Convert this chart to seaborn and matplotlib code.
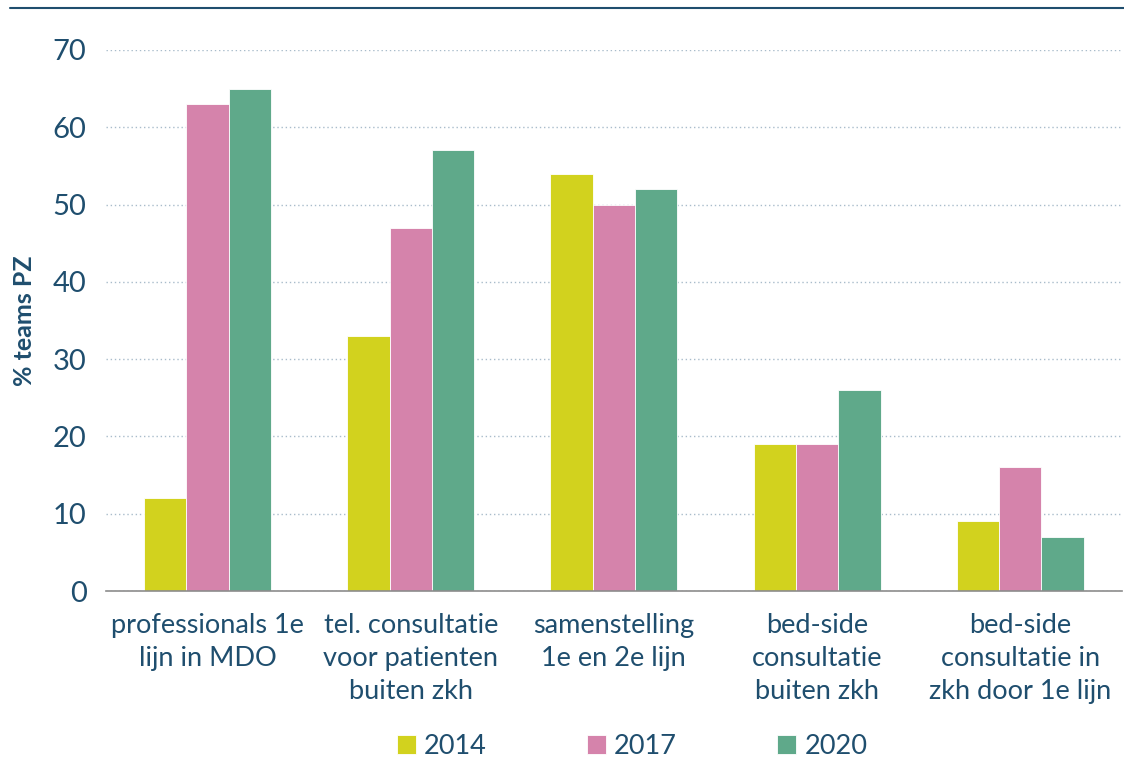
import pandas as pd
import numpy as np
import seaborn as sns
import matplotlib.pyplot as plt
from matplotlib.lines import Line2D

# Categorieën en waarden per jaar (% teams PZ)
categorieen = ["professionals 1e\nlijn in MDO",
               "tel. consultatie\nvoor patienten\nbuiten zkh",
               "samenstelling\n1e en 2e lijn",
               "bed-side\nconsultatie\nbuiten zkh",
               "bed-side\nconsultatie in\nzkh door 1e lijn"]
jaren = ["2014", "2017", "2020"]
waarden_2014 = [12, 33, 54, 19, 9]
waarden_2017 = [63, 47, 50, 19, 16]
waarden_2020 = [65, 57, 52, 26, 7]
kleuren = ["#d2d21e", "#d583ab", "#5fa98a"]

df = pd.DataFrame({
    "categorie": categorieen * 3,
    "jaar": [j for j in jaren for _ in categorieen],
    "waarde": waarden_2014 + waarden_2017 + waarden_2020,
})

sns.set_style("white")
plt.rcParams['font.family'] = ['Lato', 'DejaVu Sans']
tekst = "#1f4e6e"

fig = plt.figure(figsize=(11.24, 7.63), dpi=100)
ax = fig.add_axes([0.0943, 0.2254, 0.9037, 0.7091])

sns.barplot(data=df, x="categorie", y="waarde", hue="jaar", palette=kleuren,
            width=0.625, edgecolor="white", linewidth=0.6, ax=ax, saturation=1)

ax.set_ylim(0, 70)
ax.set_xlim(-0.5, 4.5)
ax.set_yticks(range(0, 71, 10))
ax.yaxis.grid(True, linestyle=(0, (1, 2)), color="#a9bccb", linewidth=1)
ax.set_axisbelow(True)
for s in ["top", "right", "left"]:
    ax.spines[s].set_visible(False)
ax.spines["bottom"].set_color("#8c8c8c")
ax.spines["bottom"].set_linewidth(1.2)

ax.tick_params(axis="y", length=0, labelsize=21, labelcolor=tekst, pad=14)
ax.tick_params(axis="x", which="major", length=0, labelsize=19.5, labelcolor=tekst, pad=16)
for lbl in ax.get_xticklabels():
    lbl.set_linespacing(1.4)
ax.set_xticks(np.arange(-0.5, 5, 1), minor=True)
ax.tick_params(axis="x", which="minor", length=8, color="#8c8c8c", width=1.2)

ax.set_xlabel("")
ax.set_ylabel("% teams PZ", fontsize=18, fontweight="bold", color=tekst, labelpad=12)

ax.legend(loc="upper center", bbox_to_anchor=(0.518, -0.229), ncol=3, frameon=False,
          fontsize=19.5, labelcolor=tekst, handlelength=0.7, handleheight=0.7,
          handletextpad=0.3, columnspacing=3.7, borderpad=0.2)

fig.add_artist(Line2D([0.009, 1.0], [0.989, 0.989], color=tekst, linewidth=1.5))

fig.savefig("out.png", dpi=100)
